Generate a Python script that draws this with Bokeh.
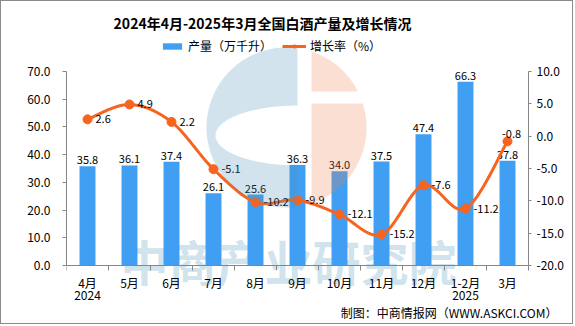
import numpy as np
from bokeh.plotting import figure
from bokeh.models import (Range1d, LinearAxis, FixedTicker, NumeralTickFormatter,
                          Legend, LegendItem, Label, PolyAnnotation)
from bokeh.core.properties import value
from bokeh.embed import file_html
from bokeh.resources import INLINE

# ---------------- data ----------------
categories = ["4月\n2024", "5月", "6月", "7月", "8月", "9月", "10月", "11月",
              "12月", "1-2月\n2025", "3月"]
output = [35.8, 36.1, 37.4, 26.1, 25.6, 36.3, 34.0, 37.5, 47.4, 66.3, 37.8]
growth = [2.6, 4.9, 2.2, -5.1, -10.2, -9.9, -12.1, -15.2, -7.6, -11.2, -0.8]
left_ticks = [0, 10, 20, 30, 40, 50, 60, 70]
right_ticks = [-20, -15, -10, -5, 0, 5, 10]
title_text = "2024年4月-2025年3月全国白酒产量及增长情况"
bar_name = "产量（万千升）"
line_name = "增长率（%）"
source_text = "制图：中商情报网（WWW.ASKCI.COM）"
watermark_text = "中商产业研究院"

# ---------------- style ----------------
FONT = "Noto Sans CJK SC"
BAR_COLOR = "#409FF3"
LINE_COLOR = "#F7641F"
AXIS_COLOR = "#868686"

W, H = 573, 324                  # + 1px border each side = 575 x 326
n = len(categories)
L_MIN, L_MAX = 0, 70
R_MIN, R_MAX = -20, 10
AX_TOP, AX_BOT = 70, 264         # canvas y of value 70 / 0
AX_L, AX_R = 65, 527             # canvas x of left / right value axes
FR = 571                         # canvas x of frame right
FT, FB = 2, 322                  # canvas y of frame top / bottom
xscale = (AX_R - AX_L) / n
scale = (AX_BOT - AX_TOP) / (L_MAX - L_MIN)
ratio = (R_MAX - R_MIN) / (L_MAX - L_MIN)
ytop_left = L_MAX + (AX_TOP - FT) / scale
ybot_left = L_MIN - (FB - AX_BOT) / scale
ytop_right = R_MIN + (ytop_left - L_MIN) * ratio
ybot_right = R_MIN + (ybot_left - L_MIN) * ratio
xmax = n + (FR - AX_R) / xscale

p = figure(width=W, height=H, output_backend="svg", toolbar_location=None,
           x_range=Range1d(0, xmax), y_range=Range1d(ybot_left, ytop_left),
           min_border_left=AX_L, min_border_right=W - FR,
           min_border_top=FT, min_border_bottom=H - FB)
p.styles = {"border": "1px solid #8a8a8a"}
p.extra_y_ranges = {"g": Range1d(ybot_right, ytop_right)}
p.outline_line_color = None
p.xgrid.visible = False
p.ygrid.visible = False
p.background_fill_color = "white"
p.border_fill_color = "white"

def px2x(px):
    return (px - 1 - AX_L) / xscale

def py2y(py):
    return (AX_BOT - (py - 1)) / scale + L_MIN

# ---------------- axes ----------------
xc = [i + 0.5 for i in range(n)]
xa = p.xaxis[0]
xa.fixed_location = L_MIN
xa.bounds = (0, n)
xa.ticker = FixedTicker(ticks=xc, minor_ticks=list(range(n + 1)))
xa.major_label_overrides = {x: c for x, c in zip(xc, categories)}
xa.major_tick_line_color = None
xa.major_tick_out = 0
xa.major_tick_in = 0
xa.minor_tick_out = 5
xa.minor_tick_in = 0
xa.minor_tick_line_color = AXIS_COLOR
xa.axis_line_color = AXIS_COLOR
xa.major_label_standoff = 3
xa.major_label_text_font = FONT
xa.major_label_text_font_size = "12px"
xa.major_label_text_line_height = 0.72
xa.major_label_text_color = "#000000"

ya = p.yaxis[0]
ya.ticker = FixedTicker(ticks=left_ticks)
ya.formatter = NumeralTickFormatter(format="0.0")
ya.bounds = (L_MIN, L_MAX)
ya.axis_line_color = AXIS_COLOR
ya.major_tick_line_color = AXIS_COLOR
ya.major_tick_out = 4
ya.major_tick_in = 0
ya.minor_tick_line_color = None
ya.major_label_standoff = 12
ya.major_label_text_font = FONT
ya.major_label_text_font_size = "12px"
ya.major_label_text_color = "#000000"

ra = LinearAxis(y_range_name="g", ticker=FixedTicker(ticks=right_ticks),
                formatter=NumeralTickFormatter(format="0.0"))
ra.fixed_location = n
ra.bounds = (R_MIN, R_MAX)
ra.axis_line_color = AXIS_COLOR
ra.major_tick_line_color = AXIS_COLOR
ra.major_tick_out = 3
ra.major_tick_in = 0
ra.minor_tick_line_color = None
ra.major_label_standoff = 5
ra.major_label_text_font = FONT
ra.major_label_text_font_size = "12px"
ra.major_label_text_color = "#000000"
p.add_layout(ra, "right")

# ---------------- watermark text (under the bars) ----------------
p.add_layout(Label(x=px2x(288), y=py2y(259), text=watermark_text, level="underlay",
                   text_font=FONT, text_font_size="48px", text_font_style="bold",
                   text_color="#4A90B8", text_alpha=0.27,
                   text_align="center", text_baseline="middle"))

# ---------------- bars ----------------
bars = p.vbar(x=xc, top=output, width=0.38, fill_color=BAR_COLOR, line_color=None)
p.text(x=xc, y=output, text=[f"{v:.1f}" for v in output],
       text_align="center", text_baseline="alphabetic", y_offset=-6,
       text_font=value(FONT), text_font_size="11px", text_color="#000000")

# ---------------- smooth line ----------------
def smooth(xs, ys, steps=24):
    pts = np.column_stack([xs, ys]).astype(float)
    out = []
    for i in range(len(pts) - 1):
        p0 = pts[i - 1] if i > 0 else pts[i]
        p1, p2 = pts[i], pts[i + 1]
        p3 = pts[i + 2] if i + 2 < len(pts) else pts[i + 1]
        c1 = p1 + (p2 - p0) / 6.0
        c2 = p2 - (p3 - p1) / 6.0
        t = np.linspace(0, 1, steps, endpoint=(i == len(pts) - 2))[:, None]
        seg = ((1 - t) ** 3) * p1 + 3 * ((1 - t) ** 2) * t * c1 + 3 * (1 - t) * t ** 2 * c2 + t ** 3 * p2
        out.append(seg)
    arr = np.vstack(out)
    return arr[:, 0], arr[:, 1]

sx, sy = smooth(xc, growth)
line = p.line(sx, sy, y_range_name="g", line_color=LINE_COLOR, line_width=3)
dots = p.scatter(xc, growth, y_range_name="g", size=9, fill_color=LINE_COLOR,
                 line_color=LINE_COLOR)
p.text(x=xc[:-1], y=growth[:-1], text=[f"{v:.1f}" for v in growth[:-1]],
       y_range_name="g", text_align="left", text_baseline="middle", x_offset=8,
       text_font=value(FONT), text_font_size="11px", text_color="#000000")
p.text(x=xc[-1:], y=growth[-1:], text=[f"{v:.1f}" for v in growth[-1:]],
       y_range_name="g", text_align="center", text_baseline="alphabetic",
       x_offset=4, y_offset=-7,
       text_font=value(FONT), text_font_size="11px", text_color="#000000")

# ---------------- watermark logo (decoration) ----------------
cx, cy, r = 286.0, 127.0, 80.0
gap_l, gap_r = 297.0, 311.0
ecx, ecy, ea, eb = 297.0, 135.0, 82.0, 30.0
th0 = np.degrees(np.arccos((gap_l - cx) / r))
th = np.radians(np.linspace(th0, 360 - th0, 80))
ox, oy = cx + r * np.cos(th), cy - r * np.sin(th)
ph = np.radians(np.linspace(270, 90, 60))
ix = ecx - ea * np.abs(np.cos(ph))
iy = ecy - eb * np.sin(ph)
bx = list(ox) + list(ix)
by = list(oy) + list(iy)
p.add_layout(PolyAnnotation(xs=[px2x(v) for v in bx], ys=[py2y(v) for v in by],
                            fill_color="#4A90B8", fill_alpha=0.25, line_color=None))
band_t, band_b = 91.0, 103.0
a_top = np.degrees(np.arccos((gap_r - cx) / r))
a_band = np.degrees(np.arcsin((cy - band_t) / r))
th = np.radians(np.linspace(a_top, a_band, 40))
tx = list(cx + r * np.cos(th)) + [gap_r]
ty = list(cy - r * np.sin(th)) + [band_t]
p.add_layout(PolyAnnotation(xs=[px2x(v) for v in tx], ys=[py2y(v) for v in ty],
                            fill_color="#F08050", fill_alpha=0.25, line_color=None))
a_band2 = np.degrees(np.arcsin((cy - band_b) / r))
th = np.radians(np.linspace(a_band2, -a_top, 60))
tx = [gap_r] + list(cx + r * np.cos(th))
ty = [band_b] + list(cy - r * np.sin(th))
p.add_layout(PolyAnnotation(xs=[px2x(v) for v in tx], ys=[py2y(v) for v in ty],
                            fill_color="#F08050", fill_alpha=0.25, line_color=None))

# ---------------- title & footnote ----------------
p.add_layout(Label(x=px2x(262), y=py2y(22), text=title_text,
                   text_font=FONT, text_font_size="14px", text_font_style="bold",
                   text_color="#000000", text_align="center", text_baseline="middle"))
p.add_layout(Label(x=px2x(557), y=py2y(312), text=source_text,
                   text_font=FONT, text_font_size="12px", text_color="#000000",
                   text_align="right", text_baseline="middle"))

# ---------------- legend ----------------
legend = Legend(items=[LegendItem(label=bar_name, renderers=[bars]),
                       LegendItem(label=line_name, renderers=[line, dots])],
                orientation="horizontal",
                location=(160 - 1 - AX_L, FB - (47 + 7 - 1)),
                glyph_width=24, glyph_height=8, label_height=14,
                label_standoff=4, spacing=10, padding=0, margin=0,
                border_line_color=None, background_fill_alpha=0,
                label_text_font=FONT, label_text_font_size="12px",
                label_text_color="#000000")
p.add_layout(legend)

open("out.html", "w").write(file_html(p, INLINE))
